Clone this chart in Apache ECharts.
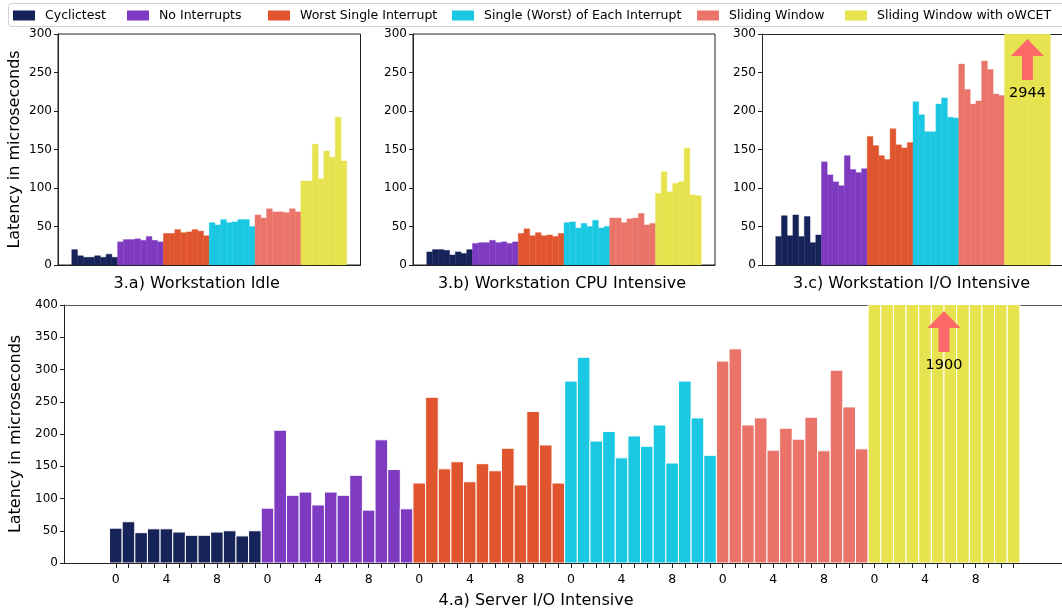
<!DOCTYPE html>
<html><head><meta charset="utf-8">
<script src="https://cdn.jsdelivr.net/npm/echarts@6/dist/echarts.min.js"></script>
<style>html,body{margin:0;padding:0;background:#fff}#c{width:1062px;height:615px}</style>
</head><body><div id="c"></div>
<script>
const seriesNames = ['Cyclictest','No Interrupts','Worst Single Interrupt','Single (Worst) of Each Interrupt','Sliding Window','Sliding Window with oWCET'];
const colors = ['#162358','#7e3ac1','#e0552e','#1bc8e4','#ea746a','#e6e34e'];
const panelTitles = ['3.a) Workstation Idle','3.b) Workstation CPU Intensive','3.c) Workstation I/O Intensive','4.a) Server I/O Intensive'];
const yName = 'Latency in microseconds';

// 3.a Workstation Idle (8 runs per group)
const idleCyclictest = [20,12,10,10,12,10,14,10];
const idleNoInt      = [30,33,33,34,32,37,32,30];
const idleWorstSingle= [41,41,46,42,43,46,44,38];
const idleEach       = [55,52,59,55,56,59,59,50];
const idleSliding    = [65,61,73,69,69,68,73,69];
const idleOwcet      = [109,109,157,112,148,140,192,135];

// 3.b Workstation CPU Intensive
const cpuCyclictest = [17,20,20,19,13,17,15,20];
const cpuNoInt      = [28,29,29,32,29,30,28,30];
const cpuWorstSingle= [41,47,38,42,38,39,37,41];
const cpuEach       = [55,56,48,54,50,58,48,50];
const cpuSliding    = [61,61,55,60,61,67,52,54];
const cpuOwcet      = [93,121,95,106,108,152,91,90];

// 3.c Workstation I/O Intensive
const ioCyclictest = [37,64,38,65,37,63,29,39];
const ioNoInt      = [134,117,108,103,142,124,120,125];
const ioWorstSingle= [167,155,142,137,177,156,152,159];
const ioEach       = [212,195,173,173,209,217,192,191];
const ioSliding    = [261,228,209,213,265,254,222,220];
const ioOwcet      = [2310,2944,1870,2520,1650,2760,2050,1930];

// 4.a Server I/O Intensive (12 runs per group)
const srvCyclictest = [54,64,47,53,53,48,43,43,48,50,42,50];
const srvNoInt      = [85,206,105,110,90,110,105,136,82,191,145,84];
const srvWorstSingle= [124,257,146,157,126,154,143,178,121,235,183,124];
const srvEach       = [282,319,189,204,163,197,181,214,155,282,225,167];
const srvSliding    = [313,332,214,225,175,209,192,226,174,299,242,177];
const srvOwcet      = [1420,1180,1650,1900,1310,1560,1740,1270,1830,1490,1610,1350];

const peakLabels = [2944, 1900];
const bottomTickLabels = [0, 4, 8];

const panels = [
  {groups:[idleCyclictest,idleNoInt,idleWorstSingle,idleEach,idleSliding,idleOwcet], n:8, ymax:300},
  {groups:[cpuCyclictest,cpuNoInt,cpuWorstSingle,cpuEach,cpuSliding,cpuOwcet], n:8, ymax:300},
  {groups:[ioCyclictest,ioNoInt,ioWorstSingle,ioEach,ioSliding,ioOwcet], n:8, ymax:300},
  {groups:[srvCyclictest,srvNoInt,srvWorstSingle,srvEach,srvSliding,srvOwcet], n:12, ymax:400}
];

const FONT = '"DejaVu Sans", sans-serif';
const SPINE = '#222';
// px per bar unit: top panels 5.72, bottom 12.65; panels c and bottom run past the right edge
const grids = [
  {left:58, top:34, width:302.5, height:231, show:true},
  {left:413, top:34, width:302, height:231, show:true},
  {left:762, top:34, right:0, height:231, show:false},
  {left:63.5, top:305, right:0, height:258, show:false}
];
const xMaxOverride = [null, null, -2.9 + 300 / 5.72, -4.1 + 998.5 / 12.65];
grids.forEach(g => { g.borderColor = SPINE; g.borderWidth = 1; g.backgroundColor = 'transparent'; g.containLabel = false; });

function makeRender(edge){
  return function(params, api){
    const x = api.value(0), v = api.value(1);
    const cs = params.coordSys;
    const a = api.coord([x - 0.5, v]);
    const b = api.coord([x + 0.5, 0]);
    const top = a[1] < cs.y ? cs.y - 3 : a[1];
    const col = api.visual('color');
    return {type:'rect', shape:{x:a[0], y:top, width:b[0]-a[0], height:b[1]-top},
      style: edge ? {fill:col, stroke:'#fff', lineWidth:1} : {fill:col, stroke:col, lineWidth:0.4}};
  };
}

const arrowPath = 'path://M16.5,0 L33,17 L22,17 L22,41 L11,41 L11,17 L0,17 Z';

const xAxes = [], yAxes = [], series = [], extraX = [];
panels.forEach((p, pi) => {
  const total = p.n * 6;
  const pad = total * 0.05;
  const isBottom = pi === 3;
  const xmin = -0.5 - pad;
  const xmax = xMaxOverride[pi] !== null ? xMaxOverride[pi] : total - 0.5 + pad;
  const ticks = [], labels = [];
  for (let i = 0; i < total; i++) { ticks.push(i); if (bottomTickLabels.includes(i % p.n)) labels.push(i); }
  xAxes.push({
    type:'value', gridIndex:pi, min:xmin, max:xmax, position:'bottom',
    axisLine:{show:true, onZero:false, lineStyle:{color:SPINE, width:1}},
    axisTick: isBottom ? {show:true, customValues:ticks, length:5, lineStyle:{color:SPINE}} : {show:false},
    axisLabel: isBottom ? {show:true, customValues:labels, formatter:v => String(Math.round(v) % p.n), color:'#000', fontSize:12.5, fontFamily:FONT, margin:10} : {show:false},
    splitLine:{show:false}
  });
  if (pi >= 2) {
    extraX.push({
      type:'value', gridIndex:pi, min:xmin, max:xmax, position:'top',
      axisLine:{show:true, onZero:false, lineStyle:{color: isBottom ? '#555' : SPINE, width:1}},
      axisTick:{show:false}, axisLabel:{show:false}, splitLine:{show:false}
    });
  }
  yAxes.push({
    type:'value', gridIndex:pi, min:0, max:p.ymax, interval:50, position:'left',
    name:(pi === 0 || pi === 3) ? yName : '', nameLocation:'middle', nameGap: pi === 3 ? 40 : 35,
    nameTextStyle:{fontSize:16, color:'#000', fontFamily:FONT},
    axisLine:{show:true, onZero:false, lineStyle:{color:SPINE, width:1}},
    axisTick:{show:true, length:4, lineStyle:{color:SPINE}},
    axisLabel:{color:'#000', fontSize:12, fontFamily:FONT, margin:6},
    splitLine:{show:false}
  });
  p.groups.forEach((arr, g) => {
    const s = {
      type:'custom', name:seriesNames[g], xAxisIndex:pi, yAxisIndex:pi,
      renderItem: makeRender(isBottom), clip:true,
      itemStyle:{color:colors[g]},
      encode:{x:0, y:1},
      data: arr.map((v, i) => [g * p.n + i, v]),
      silent:true
    };
    if (g === 5 && (pi === 2 || pi === 3)) {
      const peak = peakLabels[pi === 2 ? 0 : 1];
      s.markPoint = {
        symbol: arrowPath, symbolSize:[33, 41], silent:true,
        itemStyle:{color:'#fd6868'},
        label:{show:true, position:'bottom', distance: 6, formatter:String(peak), color:'#000', fontSize:14.5, fontFamily:FONT},
        data:[{coord:[g * p.n + (p.n - 1) / 2, pi === 2 ? 267 : 359], value:peak}]
      };
    }
    series.push(s);
  });
});

const titlePos = [[196.7, 284], [562, 284], [911.5, 284], [536, 601]];
const graphic = titlePos.map((xy, i) => ({
  type:'text', x:xy[0], y:xy[1], silent:true,
  style:{text:panelTitles[i], fontSize:16, fontFamily:FONT, fill:'#000', textAlign:'center', textVerticalAlign:'middle', align:'center', verticalAlign:'middle'}
}));
graphic.push({type:'rect', silent:true, shape:{x:8.5, y:3.5, width:1070, height:23, r:3}, style:{fill:'none', stroke:'#d0d0d0', lineWidth:1}});

const legendIconX = [13, 127, 268, 452, 697, 845];
const legends = seriesNames.map((n, i) => ({
  left: legendIconX[i] - 5, top:4, itemWidth:22, itemHeight:10, selectedMode:false,
  textStyle:{fontSize:12.5, color:'#000', fontFamily:FONT, padding:[0,0,0,5]},
  data:[{name:n, icon:'rect', itemStyle:{color:colors[i]}}]
}));

const chart = echarts.init(document.getElementById('c'), null, {renderer:'canvas'});
chart.setOption({
  animation:false,
  textStyle:{fontFamily:FONT},
  color: colors,
  legend: legends,
  grid: grids,
  xAxis: xAxes.concat(extraX),
  yAxis: yAxes,
  series: series,
  graphic: graphic
});
</script></body></html>
